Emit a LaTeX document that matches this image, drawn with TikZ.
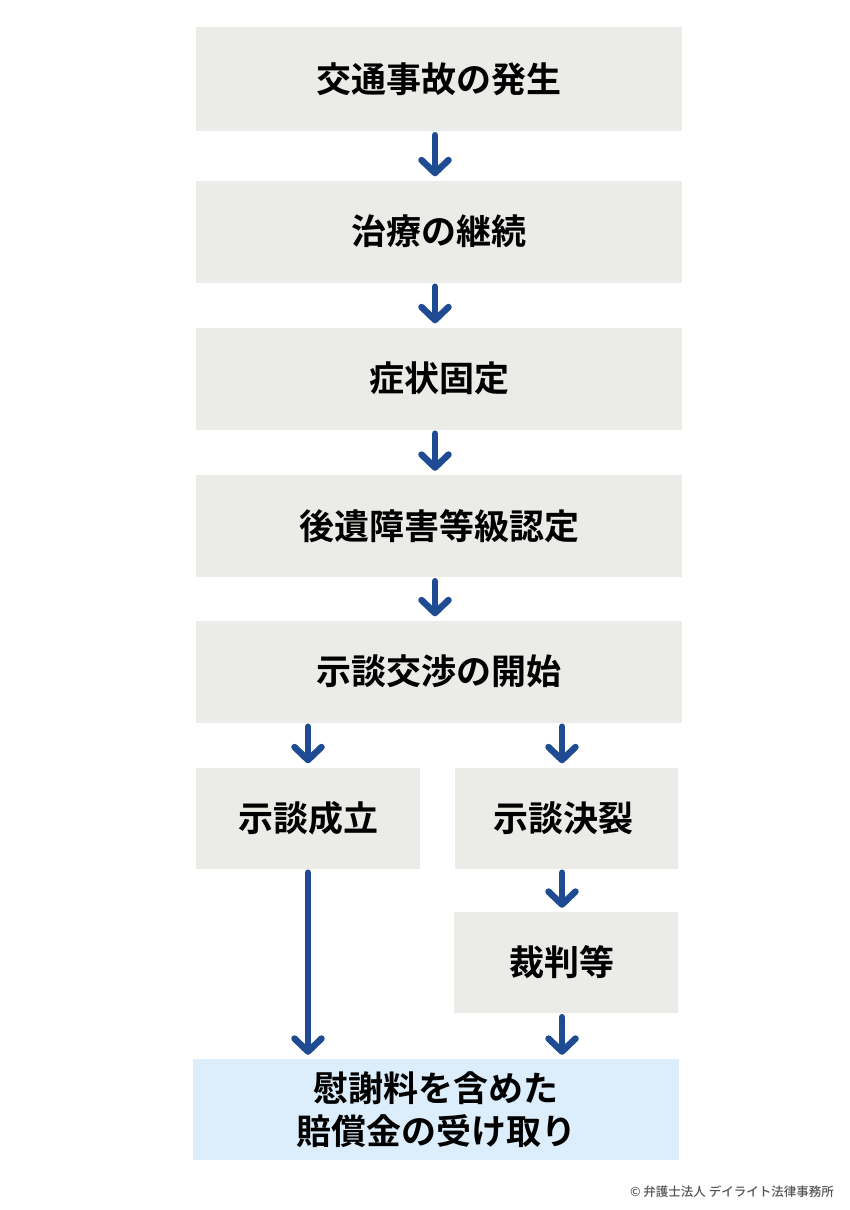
\documentclass[tikz,border=0pt]{standalone}
\usepackage{fontspec}
\newfontfamily\jp{Noto Sans CJK JP}[BoldFont={Noto Sans CJK JP Bold}]
\newfontfamily\jpm{Noto Sans CJK JP Medium}
\usetikzlibrary{arrows.meta,calc}
\definecolor{boxgray}{HTML}{EBEBE7}
\definecolor{boxblue}{HTML}{DCEEFB}
\definecolor{arrblue}{HTML}{1E4B91}
\definecolor{copygray}{HTML}{555555}
\begin{document}
\begin{tikzpicture}[x=1pt,y=-1pt,
  box/.style={fill=boxgray,draw=none,inner sep=0pt,minimum width=486pt,minimum height=102pt,
    align=center,font=\jp\bfseries\fontsize{35}{43}\selectfont},
  smallbox/.style={box,minimum width=224pt,minimum height=101pt},
  arr/.style={draw=arrblue,line width=6.5pt,line cap=round,
    -{Straight Barb[length=13pt,width=27pt,round]}}]
\useasboundingbox[fill=white] (0,0) rectangle (850,1210);
\node[box,minimum height=104pt] (b1) at (439,79) {交通事故の発生};
\node[box] (b2) at (439,231.5) {治療の継続};
\node[box] (b3) at (439,378.5) {症状固定};
\node[box] (b4) at (439,526) {後遺障害等級認定};
\node[box] (b5) at (439,671.5) {示談交渉の開始};
\node[smallbox] (bL) at (308,818) {示談成立};
\node[smallbox,minimum width=223pt] (bR) at (566.5,818) {\hspace*{-7pt}示談決裂};
\node[smallbox,minimum width=224pt] (bJ) at (566,962.5) {\hspace*{-8pt}裁判等};
\node[box,fill=boxblue,minimum height=101pt] (bF) at (436,1109.5) {慰謝料を含めた\\賠償金の受け取り};
\node[anchor=east,inner sep=0pt,text=copygray,font=\jpm\fontsize{12.5}{15}\selectfont] (copy) at (834,1192) {© 弁護士法人 デイライト法律事務所};
\draw[arr] ([xshift=-4pt,yshift=-4pt]b1.south) -- ([xshift=-4pt,yshift=4pt]b2.north);
\draw[arr] ([xshift=-4pt,yshift=-4pt]b2.south) -- ([xshift=-4pt,yshift=4pt]b3.north);
\draw[arr] ([xshift=-4pt,yshift=-4pt]b3.south) -- ([xshift=-4pt,yshift=4pt]b4.north);
\draw[arr] ([xshift=-4pt,yshift=-4pt]b4.south) -- ([xshift=-4pt,yshift=4pt]b5.north);
\draw[arr] ([yshift=-4pt]b5.south -| bL) -- ([yshift=4pt]bL.north);
\draw[arr] ([xshift=-4pt,yshift=-4pt]b5.south -| bJ) -- ([xshift=-4pt,yshift=4pt]bJ.north |- bR.north);
\draw[arr] ([yshift=-4pt]bL.south) -- ([yshift=4pt]bF.north -| bL);
\draw[arr] ([xshift=-4pt,yshift=-4pt]bR.south -| bJ) -- ([xshift=-4pt,yshift=4pt]bJ.north);
\draw[arr] ([xshift=-4pt,yshift=-4pt]bJ.south) -- ([xshift=-4pt,yshift=4pt]bF.north -| bJ);
\end{tikzpicture}
\end{document}
